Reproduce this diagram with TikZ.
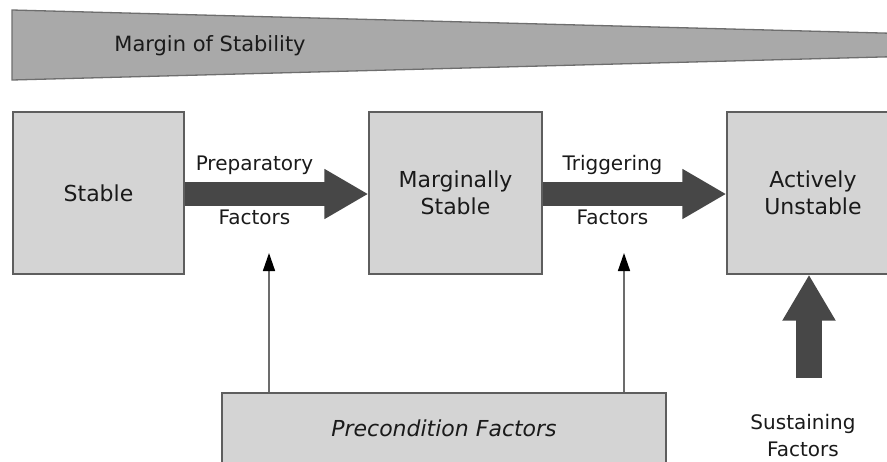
\documentclass[tikz,border=0pt]{standalone}
\usepackage{fontspec}
\setmainfont{DejaVu Sans}
\usetikzlibrary{arrows.meta,calc}
\definecolor{boxfill}{HTML}{D4D4D4}
\definecolor{boxline}{HTML}{5E5E5E}
\definecolor{wedgefill}{HTML}{A9A9A9}
\definecolor{wedgeline}{HTML}{6E6E6E}
\definecolor{heavy}{HTML}{474747}
\definecolor{txt}{HTML}{1A1A1A}
\tikzset{
  statebox/.style={draw=boxline, fill=boxfill, line width=1.3pt, inner sep=0pt,
    text=txt, align=center, font=\fontsize{22}{27}\selectfont},
  flowarrow/.style={draw=heavy, line width=24pt,
    -{Triangle[length=44pt,width=47pt,color=heavy]}},
  pusharrow/.style={draw=heavy, line width=26pt,
    -{Triangle[length=46pt,width=50pt,color=heavy]}},
  feedline/.style={draw=gray!85!black, line width=1.5pt,
    -{Triangle[length=18pt,width=12pt,color=black]}},
  flowlabel/.style={text=txt, font=\fontsize{20}{27}\selectfont, inner sep=0pt, align=center}
}
\begin{document}
\begin{tikzpicture}[x=1pt,y=-1pt]
\useasboundingbox (0,0) rectangle (887,461);
\fill[white] (0,0) rectangle (887,461);

% tapering band
\draw[fill=wedgefill, draw=wedgeline, line width=1.3pt]
  (12,10) -- (900,33.5) -- (900,56.5) -- (12,80) -- cycle;
\node[flowlabel, font=\fontsize{21}{27}\selectfont, anchor=center] (margin) at (210,46) {Margin of Stability};

% the three states
\node[statebox, minimum width=171pt, minimum height=162pt] (stable) at (98.5,193) {Stable};
\node[statebox, minimum width=173pt, minimum height=162pt] (ms) at (455.5,193) {Marginally\\Stable};
\node[statebox, minimum width=172pt, minimum height=162pt] (au) at (813,193) {Actively\\Unstable};

% transitions
\draw[flowarrow] ($(stable.east)+(0,1)$) -- node[flowlabel, pos=0.38, yshift=29pt] {Preparatory}
  node[flowlabel, pos=0.38, yshift=-23pt] {Factors} ($(ms.west)+(0,1)$);
\draw[flowarrow] ($(ms.east)+(0,1)$) -- node[flowlabel, pos=0.38, yshift=29pt] {Triggering}
  node[flowlabel, pos=0.38, yshift=-23pt] {Factors} ($(au.west)+(0,1)$);

% preconditions
\node[statebox, minimum width=444pt, minimum height=70pt, font=\fontsize{22}{27}\selectfont\itshape]
  (pre) at (444,428) {Precondition Factors};
\coordinate (t1) at (269,253);
\coordinate (t2) at (624,253);
\draw[feedline] (pre.north -| t1) -- (t1);
\draw[feedline] (pre.north -| t2) -- (t2);

% sustaining factors
\coordinate (sus) at (809,378);
\draw[pusharrow] (sus) -- (sus |- au.south);
\node[flowlabel] (suslabel) at (803,436) {Sustaining\\Factors};
\end{tikzpicture}
\end{document}
